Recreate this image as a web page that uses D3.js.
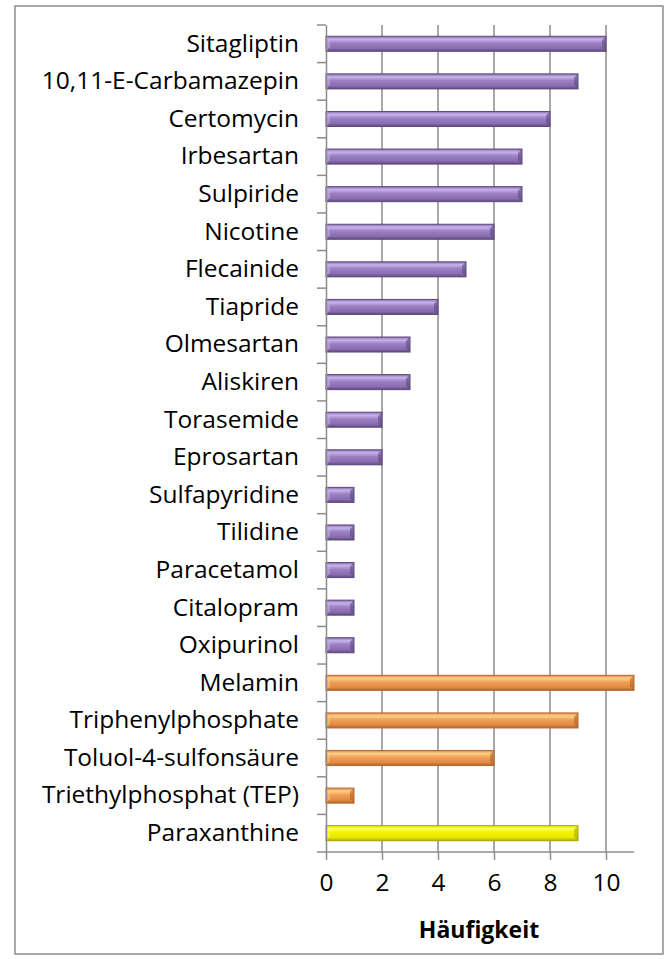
<!DOCTYPE html>
<html><head><meta charset="utf-8">
<script src="https://cdn.jsdelivr.net/npm/d3@7"></script>
<style>body{margin:0;background:#fff}svg{display:block}</style>
</head><body>
<script>
const categories = ["Sitagliptin","10,11-E-Carbamazepin","Certomycin","Irbesartan","Sulpiride","Nicotine","Flecainide","Tiapride","Olmesartan","Aliskiren","Torasemide","Eprosartan","Sulfapyridine","Tilidine","Paracetamol","Citalopram","Oxipurinol","Melamin","Triphenylphosphate","Toluol-4-sulfonsäure","Triethylphosphat (TEP)","Paraxanthine"];
const values = [10,9,8,7,7,6,5,4,3,3,2,2,1,1,1,1,1,11,9,6,1,9];
const groups = ["a","a","a","a","a","a","a","a","a","a","a","a","a","a","a","a","a","b","b","b","b","c"];
const xTicks = [0,2,4,6,8,10];
const xTitle = "Häufigkeit";

const W=667,H=959;
const m={l:326,t:25,r:33,b:107};
const FONT="'Open Sans', sans-serif";
const svg=d3.select("body").append("svg").attr("width",W).attr("height",H);
const defs=svg.append("defs");
const pal={a:["#5f4a80","#8a6cb0","#c7b3ec","#9c80c4","#6a5290"],b:["#b0642a","#e08a45","#fdd08a","#f0a055","#c06e30"],c:["#a8a800","#e6e600","#ffff60","#f2f200","#b8b800"]};
const stroke={a:"#5d4a7a",b:"#b9672e",c:"#a6a600"};
Object.entries(pal).forEach(([k,c])=>{
  const g=defs.append("linearGradient").attr("id","g"+k).attr("x1",0).attr("y1",0).attr("x2",0).attr("y2",1);
  [[0,c[1]],[0.2,c[2]],[0.45,c[3]],[0.8,c[1]],[1,c[0]]].forEach(([o,col])=>g.append("stop").attr("offset",o).attr("stop-color",col));
});
svg.append("rect").attr("x",15).attr("y",6).attr("width",648).attr("height",948).attr("fill","#fff").attr("stroke","#8c8c8c").attr("stroke-width",1.5);

const x=d3.scaleLinear().domain([0,11]).range([m.l,W-m.r]);
const y=d3.scaleBand().domain(categories).range([m.t,H-m.b]).paddingInner(0.6).paddingOuter(0.3);
const yb=d3.scaleBand().domain(categories).range([m.t,H-m.b]);

// gridlines
svg.append("g").selectAll("line").data(xTicks.filter(d=>d>0)).join("line")
 .attr("x1",d=>x(d)).attr("x2",d=>x(d)).attr("y1",m.t).attr("y2",H-m.b)
 .attr("stroke","#8c8c8c").attr("stroke-width",1.5);

// bars
const bh=y.bandwidth();
const bars=svg.append("g").selectAll("g").data(categories).join("g");
bars.append("rect").attr("x",x(0)).attr("y",d=>y(d)).attr("width",(d,i)=>x(values[i])-x(0)).attr("height",bh)
 .attr("fill",(d,i)=>`url(#g${groups[i]})`).attr("stroke",(d,i)=>stroke[groups[i]]).attr("stroke-width",1);
bars.append("path").attr("d",(d,i)=>{const xe=x(values[i]),yt=y(d),b=4;return `M${xe-b},${yt+b}L${xe},${yt}L${xe},${yt+bh}L${xe-b},${yt+bh-b}Z`;})
 .attr("fill",(d,i)=>pal[groups[i]][0]).attr("opacity",0.6);
bars.append("path").attr("d",(d,i)=>{const xs=x(0),yt=y(d),b=4;return `M${xs},${yt}L${xs+b},${yt+b}L${xs+b},${yt+bh-b}L${xs},${yt+bh}Z`;})
 .attr("fill",(d,i)=>pal[groups[i]][2]).attr("opacity",0.5);

// y axis
const ya=svg.append("g").attr("transform",`translate(${m.l},0)`).call(d3.axisLeft(yb).tickSize(0).tickPadding(27));
ya.select(".domain").attr("stroke","#8c8c8c").attr("stroke-width",1.5);
ya.selectAll("text").attr("font-family",FONT).attr("font-size",24.5).attr("fill","#000");
svg.append("g").selectAll("line").data(d3.range(categories.length+1)).join("line")
 .attr("x1",m.l-9).attr("x2",m.l).attr("y1",i=>m.t+i*yb.step()).attr("y2",i=>m.t+i*yb.step())
 .attr("stroke","#8c8c8c").attr("stroke-width",1.5);

// x axis
const xa=svg.append("g").attr("transform",`translate(0,${H-m.b})`).call(d3.axisBottom(x).tickValues(xTicks).tickSize(8).tickPadding(14));
xa.select(".domain").attr("stroke","#8c8c8c").attr("stroke-width",1.5).attr("d",`M${x(0)},0H${x(11)}`);
xa.selectAll(".tick line").attr("stroke","#8c8c8c").attr("stroke-width",1.5);
xa.selectAll("text").attr("font-family",FONT).attr("font-size",24.5).attr("fill","#000");
svg.append("text").attr("x",479).attr("y",938).attr("text-anchor","middle")
 .attr("font-family",FONT).attr("font-weight","bold").attr("font-size",23).text(xTitle);
</script>
</body></html>
